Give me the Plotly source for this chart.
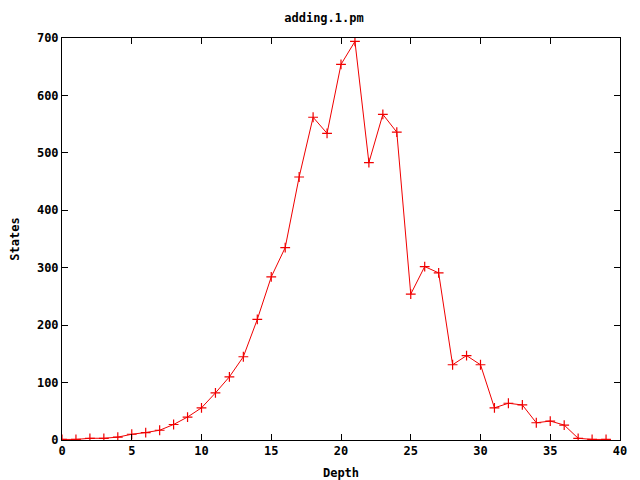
import plotly.graph_objects as go

depth = list(range(40))
states = [1, 1, 3, 3, 5, 10, 13, 17, 27, 40,
          56, 82, 110, 145, 210, 284, 335, 458, 562, 534,
          654, 694, 483, 567, 536, 254, 302, 291, 131, 147,
          131, 56, 64, 61, 30, 33, 26, 3, 1, 1]

title = "adding.1.pm"
xlabel = "Depth"
ylabel = "States"

font = dict(family="DejaVu Sans Mono", size=12, color="black", weight="bold")

fig = go.Figure(go.Scatter(
    x=depth, y=states, mode="lines+markers",
    line=dict(color="#f00000", width=1),
    marker=dict(symbol="cross-thin", size=7, line=dict(color="#f00000", width=1.2)),
    showlegend=False,
))

axis_common = dict(
    showgrid=False, zeroline=False, showline=True, linecolor="black", linewidth=1,
    mirror="ticks", ticks="inside", ticklen=6, tickcolor="black", tickwidth=1,
    tickfont=font, automargin=False,
)

W, H = 632, 472
fig.update_layout(
    width=W, height=H,
    margin=dict(l=54, r=20, t=30, b=40),
    paper_bgcolor="white", plot_bgcolor="white",
    font=font,
    title=dict(text=title, x=0.5, xanchor="center", y=1 - 10 / H, yanchor="middle", font=font),
    xaxis=dict(range=[0, 40], dtick=5, tick0=0,
               title=dict(text=xlabel, font=font), **axis_common),
    yaxis=dict(range=[0, 700], dtick=100, tick0=0,
               title=dict(text=ylabel, font=font), **axis_common),
)

fig.write_html("out.html")
